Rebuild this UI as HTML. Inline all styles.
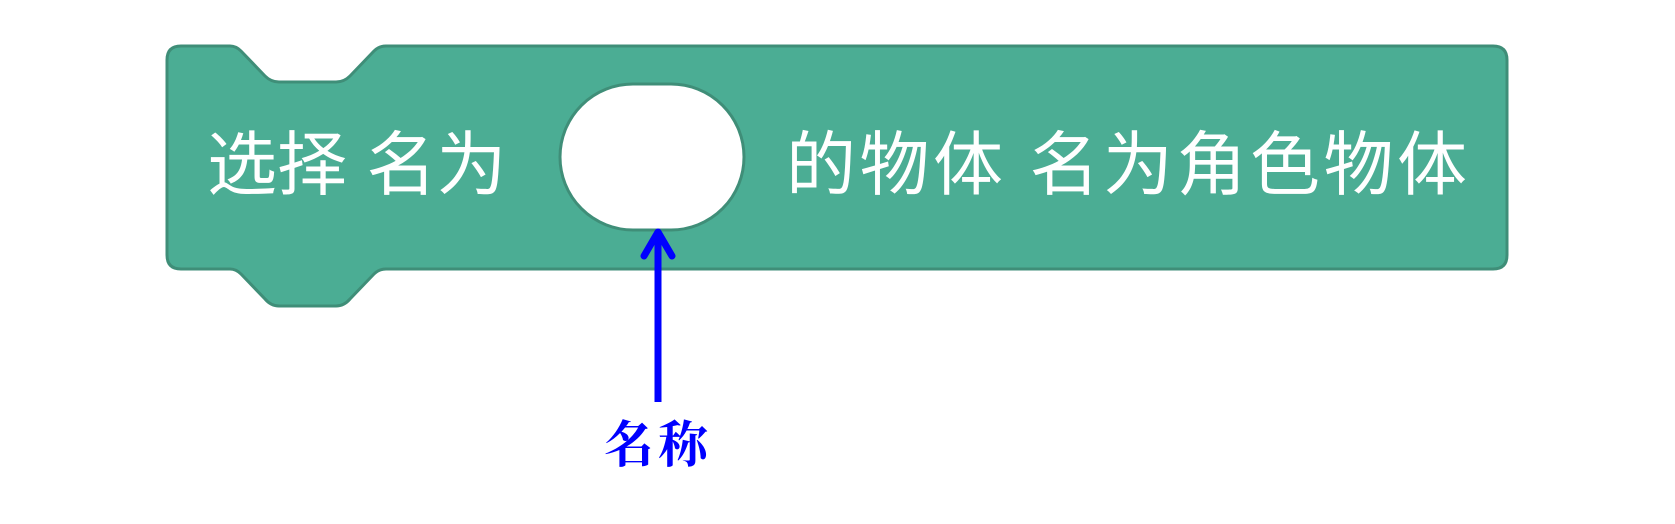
<!DOCTYPE html>
<html><head><meta charset="utf-8"><style>
html,body{margin:0;padding:0;background:#fff;width:1675px;height:524px;overflow:hidden}
svg{display:block}
</style></head><body>
<svg width="1675" height="524" viewBox="0 0 1675 524" xmlns="http://www.w3.org/2000/svg">
<path d="M181 46 H230 Q236 46 241 51 L265 76 Q271 82 279 82 H336 Q344 82 350 76 L374 51 Q379 46 386 46 H1493 Q1507 46 1507 60 V255 Q1507 269 1493 269 H386 Q379 269 374 274 L350 299 Q344 306 336 306 H279 Q271 306 265 299 L241 274 Q236 269 230 269 H181 Q167 269 167 255 V60 Q167 46 181 46 Z" fill="#4bad94" stroke="#3f8e78" stroke-width="3"/>
<rect x="560" y="84" width="184" height="146" rx="73" fill="#fff" stroke="#3f8e78" stroke-width="3"/>
<text x="207" y="189" font-family="'Liberation Sans','Noto Sans CJK SC',sans-serif" font-size="70" font-weight="normal" fill="#fff">选择 名为</text>
<text x="786" y="189" font-family="'Liberation Sans','Noto Sans CJK SC',sans-serif" font-size="70" font-weight="normal" fill="#fff" textLength="681" lengthAdjust="spacing">的物体 名为角色物体</text>
<line x1="658" y1="402" x2="658" y2="232" stroke="#0000ff" stroke-width="7"/>
<polyline points="644,256 658,232 672,256" fill="none" stroke="#0000ff" stroke-width="7" stroke-linecap="round" stroke-linejoin="round"/>
<text x="658" y="462" text-anchor="middle" font-family="'Noto Serif CJK SC',serif" font-size="50" font-weight="bold" fill="#0000ff" letter-spacing="4">名称</text>
</svg>
</body></html>
